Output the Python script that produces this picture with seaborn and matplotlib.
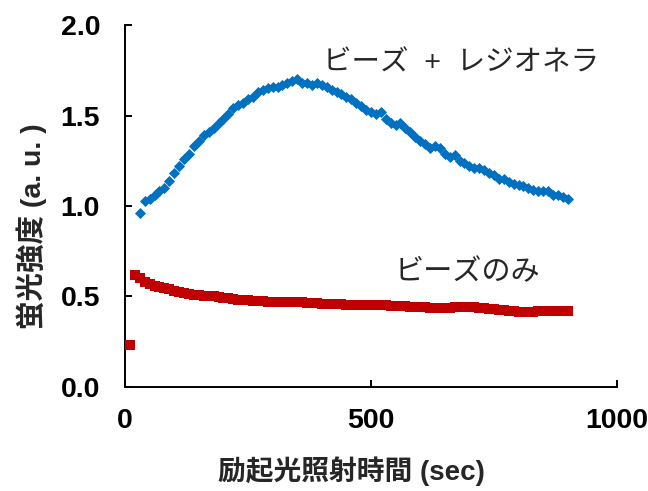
import numpy as np
import pandas as pd
import matplotlib
matplotlib.use("Agg")
import matplotlib.pyplot as plt
import seaborn as sns

# excitation time (sec)
time_red = list(range(10, 910, 10))
time_blue = list(range(30, 910, 10))

# beads + legionella
blue_vals = [
    0.96, 1.03, 1.04, 1.06, 1.08, 1.10, 1.14, 1.18, 1.22, 1.26,
    1.29, 1.33, 1.36, 1.39, 1.41, 1.43, 1.46, 1.48, 1.51, 1.54,
    1.56, 1.57, 1.59, 1.60, 1.63, 1.64, 1.65, 1.66, 1.66, 1.67,
    1.68, 1.69, 1.70, 1.68, 1.68, 1.67, 1.68, 1.67, 1.66, 1.64,
    1.63, 1.62, 1.60, 1.59, 1.57, 1.55, 1.53, 1.52, 1.51, 1.52,
    1.48, 1.46, 1.45, 1.46, 1.43, 1.41, 1.38, 1.36, 1.34, 1.32,
    1.33, 1.32, 1.29, 1.27, 1.28, 1.25, 1.24, 1.22, 1.21, 1.21,
    1.20, 1.18, 1.17, 1.15, 1.15, 1.13, 1.12, 1.115, 1.11, 1.10,
    1.09, 1.08, 1.08, 1.08, 1.06, 1.06, 1.05, 1.04,
]

# beads only
red_vals = [
    0.23, 0.62, 0.60, 0.58, 0.57, 0.56, 0.55, 0.545, 0.54, 0.53,
    0.525, 0.52, 0.515, 0.51, 0.51, 0.505, 0.50, 0.50, 0.495, 0.49,
    0.49, 0.485, 0.48, 0.48, 0.48, 0.475, 0.475, 0.475, 0.47, 0.47,
    0.47, 0.47, 0.47, 0.47, 0.47, 0.47, 0.465, 0.465, 0.465, 0.46,
    0.46, 0.46, 0.46, 0.46, 0.455, 0.455, 0.455, 0.455, 0.45, 0.45,
    0.45, 0.45, 0.45, 0.445, 0.445, 0.445, 0.445, 0.44, 0.44, 0.44,
    0.44, 0.435, 0.435, 0.435, 0.435, 0.435, 0.44, 0.44, 0.44, 0.44,
    0.44, 0.435, 0.435, 0.43, 0.43, 0.425, 0.425, 0.42, 0.42, 0.415,
    0.415, 0.415, 0.415, 0.42, 0.42, 0.42, 0.42, 0.42, 0.42, 0.42,
]

x_ticks = [0, 500, 1000]
y_ticks = [0.0, 0.5, 1.0, 1.5, 2.0]
y_ticklabels = ["0.0", "0.5", "1.0", "1.5", "2.0"]

sns.set_style("ticks")
plt.rcParams['font.family'] = ['Liberation Sans', 'Noto Sans CJK JP', 'DejaVu Sans']

fig = plt.figure(figsize=(6.48, 4.91), dpi=100)
ax = fig.add_axes([0.193, 0.212, 0.759, 0.737])

df_blue = pd.DataFrame({"time": time_blue, "value": blue_vals})
df_red = pd.DataFrame({"time": time_red, "value": red_vals})

sns.scatterplot(data=df_red, x="time", y="value", ax=ax, marker="s",
                s=50, color="#C00000", linewidth=0, zorder=3)
sns.scatterplot(data=df_blue, x="time", y="value", ax=ax, marker="D",
                s=32, color="#0070C0", linewidth=0, zorder=3)

ax.set_xlim(0, 1000)
ax.set_ylim(0, 2.0)
ax.set_xticks(x_ticks)
ax.set_xticklabels([str(t) for t in x_ticks])
ax.set_yticks(y_ticks)
ax.set_yticklabels(y_ticklabels)

for s in ["top", "right"]:
    ax.spines[s].set_visible(False)
for s in ["left", "bottom"]:
    ax.spines[s].set_color("black")
    ax.spines[s].set_linewidth(1.4)

ax.tick_params(axis="both", direction="in", length=5, width=1.4,
               colors="black", labelsize=20.5)
ax.tick_params(axis="y", pad=18)
ax.tick_params(axis="x", pad=15)
for lbl in ax.get_xticklabels() + ax.get_yticklabels():
    lbl.set_fontweight("bold")

ax.set_xlabel("励起光照射時間 (sec)", fontsize=20, fontweight="bold")
ax.set_ylabel("蛍光強度 (a. u. )", fontsize=20.5, fontweight="bold")
ax.xaxis.set_label_coords(0.461, -0.193)
ax.yaxis.set_label_coords(-0.158, 0.445)

ax.text(402, 1.79, "ビーズ  +  レジオネラ", fontsize=20.5, va="center", ha="left")
ax.text(549, 0.635, "ビーズのみ", fontsize=21, va="center", ha="left")

fig.savefig("out.png", dpi=100)
